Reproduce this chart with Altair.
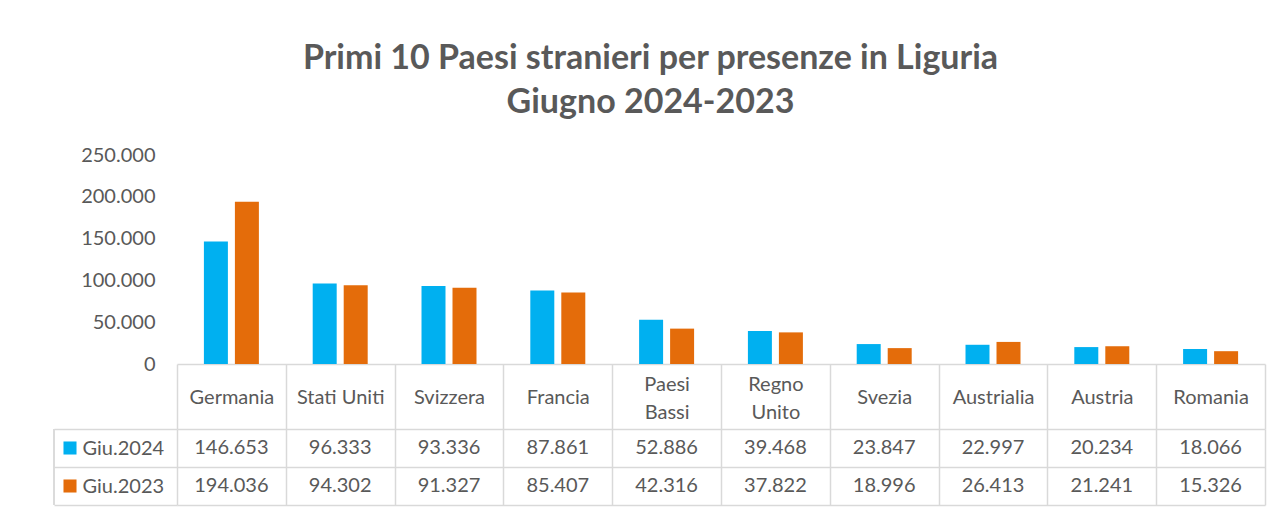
import altair as alt
import pandas as pd

# ---- data ----
countries = ["Germania", "Stati Uniti", "Svizzera", "Francia", "Paesi Bassi",
             "Regno Unito", "Svezia", "Austrialia", "Austria", "Romania"]
series = ["Giu.2024", "Giu.2023"]
giu_2024 = [146653, 96333, 93336, 87861, 52886, 39468, 23847, 22997, 20234, 18066]
giu_2023 = [194036, 94302, 91327, 85407, 42316, 37822, 18996, 26413, 21241, 15326]
y_ticks = [0, 50000, 100000, 150000, 200000, 250000]
title_lines = ["Primi 10 Paesi stranieri per presenze in Liguria", "Giugno 2024-2023"]
wrapped_labels = ["Paesi Bassi", "Regno Unito"]

rows = []
for s, vals in zip(series, [giu_2024, giu_2023]):
    for c, v in zip(countries, vals):
        rows.append({"Paese": c, "Serie": s, "Presenze": v})
df = pd.DataFrame(rows)
df_series = pd.DataFrame({"Serie": series})

# ---- styling ----
FONT = "Lato"
GREY = "#595959"
LINE = "#d9d9d9"
COLORS = ["#00B0F0", "#E46C0A"]
W = 1088
H_BARS = 209
HEADER = 65
H_TABLE = 76
LEGEND_COL = 123
FS = 20

color = alt.Color("Serie:N", sort=series,
                  scale=alt.Scale(domain=series, range=COLORS), legend=None)

wrapped_test = "indexof(%s, datum.value) >= 0" % str(wrapped_labels)
label_expr = ("indexof(%s, datum.label) >= 0 ? split(datum.label, ' ') : datum.label"
              % str(wrapped_labels))

x_bars = alt.X(
    "Paese:N", sort=countries,
    scale=alt.Scale(paddingInner=0, paddingOuter=0),
    axis=alt.Axis(title=None, labelAngle=0, tickBand="extent", tickSize=HEADER,
                  tickColor=LINE, tickWidth=1.5, domainColor=LINE, domainWidth=1.5,
                  labelPadding={"condition": {"test": wrapped_test, "value": -45},
                                "value": -32},
                  labelBaseline="middle", labelFont=FONT,
                  labelFontSize=FS, labelColor=GREY, labelLineHeight=28,
                  labelExpr=label_expr),
)

bars = alt.Chart(df).mark_bar().encode(
    x=x_bars,
    xOffset=alt.XOffset("Serie:N", sort=series,
                        scale=alt.Scale(paddingInner=0.226, paddingOuter=0.868)),
    y=alt.Y("Presenze:Q", scale=alt.Scale(domain=[0, 250000]),
            axis=alt.Axis(title=None, values=y_ticks, format=",d", grid=False,
                          ticks=False, domain=False, labelPadding=22,
                          labelFont=FONT, labelFontSize=FS, labelColor=GREY)),
    color=color,
).properties(width=W, height=H_BARS)

tx = alt.X("Paese:N", sort=countries,
           scale=alt.Scale(paddingInner=0, paddingOuter=0),
           axis=alt.Axis(title=None, labels=False, ticks=False, domain=False,
                         grid=True, tickBand="extent", gridColor=LINE, gridWidth=1.5))
ty = alt.Y("Serie:N", sort=series,
           scale=alt.Scale(paddingInner=0, paddingOuter=0),
           axis=alt.Axis(title=None, grid=True, tickBand="extent", gridColor=LINE,
                         gridWidth=1.5, ticks=True, tickSize=LEGEND_COL,
                         tickColor=LINE, tickWidth=1.5, domain=False,
                         labelAlign="left", labelPadding=-28, labelFont=FONT,
                         labelFontSize=FS, labelColor=GREY))

cells = alt.Chart(df).mark_text(font=FONT, fontSize=FS, color=GREY).encode(
    x=tx, y=ty, text=alt.Text("Presenze:Q", format=",d"))

swatch = alt.Chart(df_series).mark_square(size=170, opacity=1).encode(
    x=alt.value(-107), y=ty, color=color)

border = alt.Chart(df_series).mark_rule(color=LINE, strokeWidth=1.5).encode(
    x=alt.value(-LEGEND_COL), y=alt.value(0), y2=alt.value(H_TABLE))

table = alt.layer(cells, swatch, border).properties(width=W, height=H_TABLE)

chart = alt.vconcat(bars, table, spacing=HEADER, bounds="flush").properties(
    title=alt.TitleParams(text=title_lines, font=FONT, fontSize=34,
                          fontWeight="bold", color=GREY, anchor="middle",
                          lineHeight=44, offset=25, dx=-9),
    padding={"left": 53, "top": 42, "right": 5, "bottom": 3},
).configure(
    locale={"number": {"decimal": ",", "thousands": ".", "grouping": [3],
                       "currency": ["€", ""]}},
).configure_view(stroke=None)

chart.save("out.html", embed_options={"renderer": "svg", "actions": False})
